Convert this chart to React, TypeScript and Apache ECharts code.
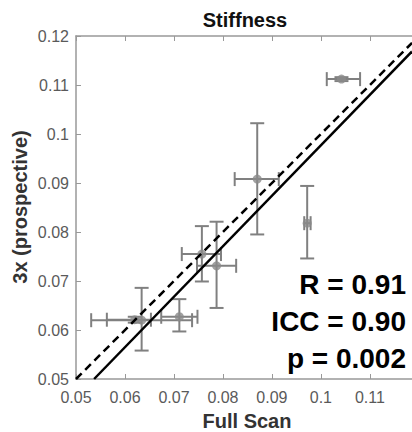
import React, { useEffect, useRef } from "react";
import * as echarts from "echarts";

// Data
const fullScan = [0.0634, 0.0711, 0.0757, 0.0787, 0.087, 0.1042, 0.0972, 0.062];
const prospective = [0.062, 0.0627, 0.0755, 0.0731, 0.0908, 0.1112, 0.0818, 0.0621];
const fullScanLow = [0.0531, 0.0674, 0.0716, 0.0747, 0.0824, 0.1012, 0.0966, 0.0563];
const fullScanHigh = [0.0737, 0.0748, 0.0796, 0.0827, 0.0914, 0.108, 0.0979, 0.0653];
const prospectiveLow = [0.0558, 0.0597, 0.0699, 0.0645, 0.0795, 0.1108, 0.0746, 0.0615];
const prospectiveHigh = [0.0686, 0.0663, 0.0812, 0.0821, 0.1022, 0.1116, 0.0894, 0.0627];

const fitSlope = 1.03;
const fitIntercept = -0.00531;

const xMin = 0.05;
const xMax = 0.1186;
const yMin = 0.05;
const yMax = 0.12;
const tickStep = 0.01;

const statsLines = ["R = 0.91", "ICC = 0.90", "p = 0.002"];
const titleText = "Stiffness";
const xName = "Full Scan";
const yName = "3x (prospective)";

const FONT = "'Liberation Sans', Arial, Helvetica, sans-serif";
const GRAY = "#808080";
const AXIS_GRAY = "#999999";
const LABEL_GRAY = "#5a5a5a";

const fmt = (v: number) => String(parseFloat(v.toFixed(3)));

export default function App() {
  const ref = useRef<HTMLDivElement>(null);

  useEffect(() => {
    document.body.style.margin = "0";
    const chart = echarts.init(ref.current!, null, { renderer: "svg" });

    const errData = fullScan.map((x, i) => [
      x,
      prospective[i],
      fullScanLow[i],
      fullScanHigh[i],
      prospectiveLow[i],
      prospectiveHigh[i],
    ]);
    const pts = fullScan.map((x, i) => [x, prospective[i]]);

    // fit line from y = yMin to x = xMax
    const fitX0 = (yMin - fitIntercept) / fitSlope;
    const fitLine = [
      [fitX0, yMin],
      [xMax, fitSlope * xMax + fitIntercept],
    ];
    const identity = [
      [xMin, xMin],
      [xMax, xMax],
    ];

    const cap = 7;

    chart.setOption({
      animation: false,
      grid: { left: 76, right: 0, top: 36, bottom: 53 },
      xAxis: [
        {
          type: "value",
          min: xMin,
          max: xMax,
          interval: tickStep,
          splitLine: { show: false },
          axisLine: { show: true, lineStyle: { color: AXIS_GRAY, width: 1.5 } },
          axisTick: { show: true, inside: true, length: 5, lineStyle: { color: AXIS_GRAY } },
          axisLabel: {
            show: true,
            margin: 10,
            fontSize: 16,
            fontFamily: FONT,
            color: LABEL_GRAY,
            showMaxLabel: false,
            formatter: (v: number) => fmt(v),
          },
        },
        {
          type: "value",
          position: "top",
          min: xMin,
          max: xMax,
          interval: tickStep,
          splitLine: { show: false },
          axisLine: { show: true, lineStyle: { color: AXIS_GRAY, width: 1.5 } },
          axisTick: { show: true, inside: true, length: 5, lineStyle: { color: AXIS_GRAY } },
          axisLabel: { show: false },
        },
      ],
      yAxis: {
        type: "value",
        min: yMin,
        max: yMax,
        interval: tickStep,
        splitLine: { show: false },
        axisLine: { show: true, lineStyle: { color: AXIS_GRAY, width: 1.5 } },
        axisTick: { show: true, inside: true, length: 5, lineStyle: { color: AXIS_GRAY } },
        axisLabel: {
          margin: 7,
          fontSize: 16,
          fontFamily: FONT,
          color: LABEL_GRAY,
          formatter: (v: number) => fmt(v),
        },
      },
      series: [
        {
          type: "custom",
          xAxisIndex: 0,
          data: errData,
          z: 2,
          renderItem: (params: any, api: any) => {
            const x = api.value(0);
            const y = api.value(1);
            const c = api.coord([x, y]);
            const xl = api.coord([api.value(2), y]);
            const xh = api.coord([api.value(3), y]);
            const yl = api.coord([x, api.value(4)]);
            const yh = api.coord([x, api.value(5)]);
            const style = { stroke: GRAY, lineWidth: 2, fill: "none" };
            return {
              type: "group",
              children: [
                { type: "line", shape: { x1: xl[0], y1: c[1], x2: xh[0], y2: c[1] }, style },
                { type: "line", shape: { x1: xl[0], y1: c[1] - cap, x2: xl[0], y2: c[1] + cap }, style },
                { type: "line", shape: { x1: xh[0], y1: c[1] - cap, x2: xh[0], y2: c[1] + cap }, style },
                { type: "line", shape: { x1: c[0], y1: yl[1], x2: c[0], y2: yh[1] }, style },
                { type: "line", shape: { x1: c[0] - cap, y1: yl[1], x2: c[0] + cap, y2: yl[1] }, style },
                { type: "line", shape: { x1: c[0] - cap, y1: yh[1], x2: c[0] + cap, y2: yh[1] }, style },
              ],
            };
          },
        },
        {
          type: "scatter",
          data: pts,
          symbol: "circle",
          symbolSize: 9,
          itemStyle: { color: "#8a8a8a" },
          z: 3,
        },
        {
          type: "line",
          data: identity,
          symbol: "none",
          lineStyle: { color: "#000", width: 2.5, type: [8, 5] },
          z: 4,
        },
        {
          type: "line",
          data: fitLine,
          symbol: "none",
          lineStyle: { color: "#000", width: 2.5 },
          z: 4,
        },
      ],
      graphic: [
        {
          type: "text",
          x: 245,
          y: 20,
          style: {
            text: titleText,
            font: `bold 20px ${FONT}`,
            fill: "#111",
            align: "center",
            verticalAlign: "middle",
          },
        },
        {
          type: "text",
          x: 247,
          y: 421,
          style: {
            text: xName,
            font: `bold 20px ${FONT}`,
            fill: "#333",
            align: "center",
            verticalAlign: "middle",
          },
        },
        {
          type: "text",
          x: 20,
          y: 207,
          rotation: Math.PI / 2,
          style: {
            text: yName,
            font: `bold 20px ${FONT}`,
            fill: "#333",
            align: "center",
            verticalAlign: "middle",
          },
        },
        ...statsLines.map((t, i) => ({
          type: "text",
          x: 406,
          y: 284 + i * 37,
          z: 10,
          style: {
            text: t,
            font: `bold 28px ${FONT}`,
            fill: "#000",
            align: "right",
            verticalAlign: "middle",
          },
        })),
      ],
    });

    return () => chart.dispose();
  }, []);

  return <div ref={ref} style={{ width: 412, height: 432 }} />;
}
